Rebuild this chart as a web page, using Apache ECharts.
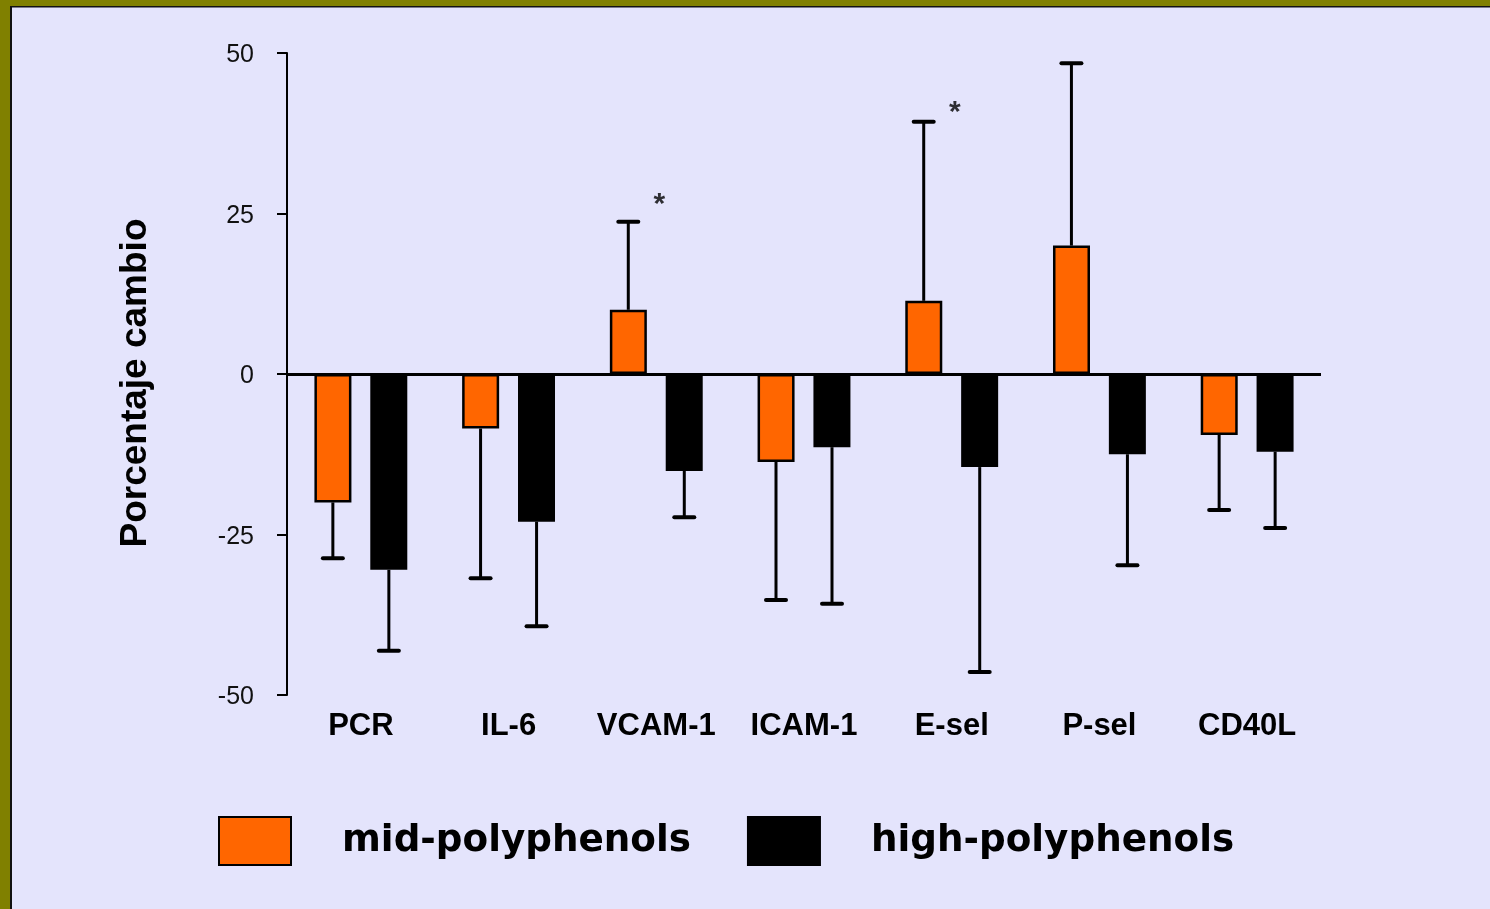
<!DOCTYPE html>
<html>
<head>
<meta charset="utf-8">
<script src="https://cdn.jsdelivr.net/npm/echarts@6/dist/echarts.min.js"></script>
<style>
html,body{margin:0;padding:0;background:#E4E4FC;}
#chart{width:1490px;height:909px;}
</style>
</head>
<body>
<div id="chart"></div>
<script>
const categories = ['PCR', 'IL-6', 'VCAM-1', 'ICAM-1', 'E-sel', 'P-sel', 'CD40L'];
const midValues  = [-20, -8.5, 10, -13.7, 11.4, 20, -9.5];
const midErrEnd  = [-28.7, -31.8, 23.7, -35.2, 39.3, 48.4, -21.2];
const highValues = [-30.5, -23, -15.1, -11.4, -14.5, -12.5, -12.1];
const highErrEnd = [-43.1, -39.3, -22.3, -35.8, -46.4, -29.8, -24.0];
const yTicks = [-50, -25, 0, 25, 50];
const seriesNames = ['mid-polyphenols', 'high-polyphenols'];
const asterisks = [['VCAM-1', 27.6], ['E-sel', 42]];

const BAR_W = 37, OFFSET = 28;

function errSeries(values, ends, dx) {
  return {
    type: 'custom',
    z: 5,
    silent: true,
    data: values.map((v, i) => [i, v, ends[i]]),
    renderItem: function (params, api) {
      const s = api.coord([api.value(0), api.value(1)]);
      const e = api.coord([api.value(0), api.value(2)]);
      const x = s[0] + dx;
      return {
        type: 'group',
        children: [
          { type: 'line', shape: { x1: x, y1: s[1], x2: x, y2: e[1] },
            style: { stroke: '#000', lineWidth: 3 } },
          { type: 'line', shape: { x1: x - 10, y1: e[1], x2: x + 10, y2: e[1] },
            style: { stroke: '#000', lineWidth: 4, lineCap: 'round' } }
        ]
      };
    }
  };
}

const chart = echarts.init(document.getElementById('chart'));
chart.setOption({
  backgroundColor: '#E4E4FC',
  animation: false,
  grid: { left: 287, right: 169, top: 53, bottom: 214, containLabel: false },
  xAxis: {
    type: 'category',
    data: categories,
    axisLine: { show: false, onZero: false },
    axisTick: { show: false },
    axisLabel: { interval: 0, color: '#000', fontFamily: 'Liberation Sans, Arial', fontWeight: 'bold', fontSize: 31, margin: 16 }
  },
  yAxis: {
    type: 'value',
    min: -50, max: 50, interval: 25,
    name: 'Porcentaje cambio',
    nameLocation: 'middle',
    nameGap: 133,
    nameTextStyle: { color: '#000', fontFamily: 'Liberation Sans, Arial', fontWeight: 'bold', fontSize: 37, padding: [0, 18, 0, 0] },
    axisLine: { show: true, lineStyle: { color: '#000', width: 2 } },
    axisTick: { show: true, length: 10, lineStyle: { color: '#000', width: 2 } },
    splitLine: { show: false },
    axisLabel: { color: '#111', fontFamily: 'Liberation Sans, Arial', fontSize: 25, margin: 33,
      verticalAlign: 'top', lineHeight: 25, padding: [-10, 0, 0, 0],
      formatter: v => yTicks.includes(v) ? String(v) : '' }
  },
  legend: {
    left: 218, top: 816, padding: 0,
    itemWidth: 72, itemHeight: 48, itemGap: 56,
    icon: 'rect',
    textStyle: { color: '#000', fontFamily: 'DejaVu Sans', fontWeight: 'bold', fontSize: 37.3, padding: [0, 0, 0, 46] },
    data: seriesNames
  },
  series: [
    {
      name: seriesNames[0], type: 'bar', data: midValues,
      barWidth: BAR_W, barGap: '51%',
      itemStyle: { color: '#FF6600', borderColor: '#000', borderWidth: 2.5 },
      markLine: {
        silent: true, symbol: 'none', label: { show: false },
        lineStyle: { color: '#000', width: 3, type: 'solid' },
        data: [{ yAxis: 0 }]
      }
    },
    {
      name: seriesNames[1], type: 'bar', data: highValues,
      barWidth: BAR_W,
      itemStyle: { color: '#000', borderColor: '#000', borderWidth: 2 }
    },
    errSeries(midValues, midErrEnd, -OFFSET),
    errSeries(highValues, highErrEnd, OFFSET),
    {
      type: 'scatter', silent: true, symbolSize: 1,
      itemStyle: { color: 'rgba(0,0,0,0)' },
      data: asterisks,
      label: { show: true, position: 'inside', formatter: '*', color: '#000',
        fontFamily: 'Liberation Sans, Arial', fontWeight: 'bold', fontSize: 30, offset: [3, 8] }
    }
  ],
  graphic: [
    { type: 'rect', shape: { x: 0, y: 0, width: 1490, height: 6 }, style: { fill: '#808000' }, z: 100 },
    { type: 'rect', shape: { x: 0, y: 0, width: 10, height: 909 }, style: { fill: '#808000' }, z: 100 },
    { type: 'rect', shape: { x: 10, y: 6, width: 1480, height: 1.5 }, style: { fill: '#111' }, z: 100 },
    { type: 'rect', shape: { x: 10, y: 6, width: 2, height: 903 }, style: { fill: '#111' }, z: 100 }
  ]
});
</script>
</body>
</html>
